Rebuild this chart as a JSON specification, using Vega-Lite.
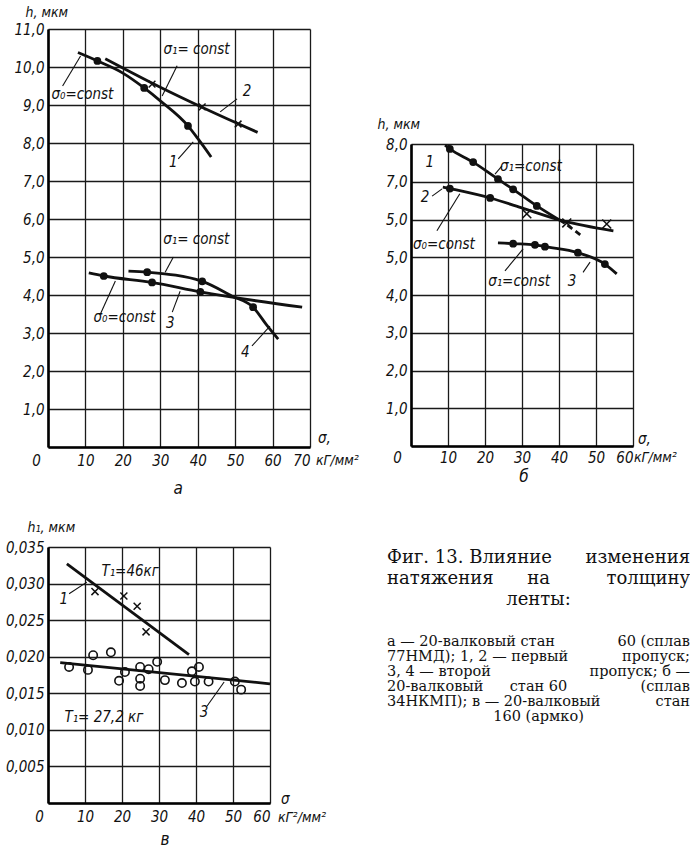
{
  "$schema": "https://vega.github.io/schema/vega-lite/v6.json",
  "background": "white",
  "padding": {"left": 5, "top": 5, "right": 0, "bottom": 0},
  "bounds": "flush",
  "spacing": 518,
  "config": {
    "view": {"stroke": null},
    "point": {"opacity": 1},
    "axis": {
      "grid": true, "gridColor": "#1a1a1a", "gridWidth": 1.3, "gridOpacity": 1,
      "domainColor": "#000", "domainWidth": 2.6, "ticks": false, "tickCount": 30,
      "labelFont": "Liberation Sans Narrow, DejaVu Sans Condensed, sans-serif",
      "labelFontStyle": "italic", "labelFontSize": 15, "labelColor": "#111",
      "labelFlush": false, "labelOverlap": false, "labelBound": false,
      "titleFont": "Liberation Sans Narrow, DejaVu Sans Condensed, sans-serif",
      "titleFontStyle": "italic", "titleFontWeight": "normal", "titleFontSize": 14, "titleColor": "#111"
    },
    "axisY": {"labelPadding": 4, "titleAngle": 0, "titleAlign": "left", "titleBaseline": "middle"},
    "text": {"font": "Liberation Sans Narrow, DejaVu Sans Condensed, sans-serif", "fontStyle": "italic", "fontSize": 15, "color": "#111", "baseline": "middle"}
  },
  "datasets": {
    "a_curves": [
      {"curve": "1", "sigma": 8, "h": 10.38}, {"curve": "1", "sigma": 13.2, "h": 10.16}, {"curve": "1", "sigma": 20, "h": 9.84}, {"curve": "1", "sigma": 25.7, "h": 9.45}, {"curve": "1", "sigma": 30, "h": 9.11}, {"curve": "1", "sigma": 37.4, "h": 8.45}, {"curve": "1", "sigma": 40, "h": 8.12}, {"curve": "1", "sigma": 43.6, "h": 7.63},
      {"curve": "2", "sigma": 15.3, "h": 10.22}, {"curve": "2", "sigma": 30, "h": 9.47}, {"curve": "2", "sigma": 41, "h": 8.95}, {"curve": "2", "sigma": 51, "h": 8.5}, {"curve": "2", "sigma": 56, "h": 8.28},
      {"curve": "3", "sigma": 10.9, "h": 4.58}, {"curve": "3", "sigma": 14.9, "h": 4.5}, {"curve": "3", "sigma": 27.8, "h": 4.33}, {"curve": "3", "sigma": 40.7, "h": 4.08}, {"curve": "3", "sigma": 67.9, "h": 3.68},
      {"curve": "4", "sigma": 21.5, "h": 4.63}, {"curve": "4", "sigma": 26.5, "h": 4.6}, {"curve": "4", "sigma": 41.2, "h": 4.36}, {"curve": "4", "sigma": 49.2, "h": 3.97}, {"curve": "4", "sigma": 54.8, "h": 3.68}, {"curve": "4", "sigma": 58.5, "h": 3.2}, {"curve": "4", "sigma": 61.5, "h": 2.84}
    ],
    "a_dots": [
      {"sigma": 13.2, "h": 10.16}, {"sigma": 25.7, "h": 9.45}, {"sigma": 37.4, "h": 8.45},
      {"sigma": 14.9, "h": 4.5}, {"sigma": 27.8, "h": 4.33}, {"sigma": 40.7, "h": 4.08},
      {"sigma": 26.5, "h": 4.6}, {"sigma": 41.2, "h": 4.36}, {"sigma": 54.8, "h": 3.68}
    ],
    "a_cross": [{"sigma": 27.8, "h": 9.55}, {"sigma": 41.2, "h": 8.95}, {"sigma": 50.8, "h": 8.5}],
    "a_leaders": [
      {"x1": 34.5, "y1": 10.03, "x2": 30.5, "y2": 9.24},
      {"x1": 3.9, "y1": 9.5, "x2": 8.7, "y2": 10.29},
      {"x1": 50.5, "y1": 9.16, "x2": 46, "y2": 8.82},
      {"x1": 34.8, "y1": 7.58, "x2": 38.8, "y2": 8.03},
      {"x1": 33.5, "y1": 5.0, "x2": 31.3, "y2": 4.6},
      {"x1": 14, "y1": 3.5, "x2": 18, "y2": 4.37},
      {"x1": 33.2, "y1": 3.55, "x2": 35.3, "y2": 4.1},
      {"x1": 54.5, "y1": 2.66, "x2": 59.3, "y2": 3.18}
    ],
    "a_text": [
      {"t": "σ₁= const", "x": 39.7, "y": 10.47}, {"t": "σ₀=const", "x": 9.2, "y": 9.29},
      {"t": "2", "x": 53.2, "y": 9.37}, {"t": "1", "x": 33.5, "y": 7.5},
      {"t": "σ₁= const", "x": 39.6, "y": 5.47}, {"t": "σ₀=const", "x": 20.4, "y": 3.42},
      {"t": "3", "x": 32.7, "y": 3.26}, {"t": "4", "x": 52.7, "y": 2.5}
    ],
    "b_curves": [
      {"curve": "1", "sigma": 9.2, "h": 7.97}, {"curve": "1", "sigma": 10.5, "h": 7.87}, {"curve": "1", "sigma": 16.8, "h": 7.52}, {"curve": "1", "sigma": 23.5, "h": 7.07}, {"curve": "1", "sigma": 27.6, "h": 6.8}, {"curve": "1", "sigma": 34, "h": 6.36}, {"curve": "1", "sigma": 41.6, "h": 5.9},
      {"curve": "2", "sigma": 8.6, "h": 6.86}, {"curve": "2", "sigma": 10.5, "h": 6.82}, {"curve": "2", "sigma": 21.4, "h": 6.57}, {"curve": "2", "sigma": 30.5, "h": 6.29}, {"curve": "2", "sigma": 40.8, "h": 5.97}, {"curve": "2", "sigma": 54.7, "h": 5.7},
      {"curve": "3", "sigma": 23.5, "h": 5.38}, {"curve": "3", "sigma": 27.6, "h": 5.36}, {"curve": "3", "sigma": 33.5, "h": 5.33}, {"curve": "3", "sigma": 36.2, "h": 5.28}, {"curve": "3", "sigma": 45.1, "h": 5.12}, {"curve": "3", "sigma": 52.4, "h": 4.82}, {"curve": "3", "sigma": 55.6, "h": 4.56}
    ],
    "b_dash": [{"curve": "1", "sigma": 42.3, "h": 5.85}, {"curve": "1", "sigma": 46.2, "h": 5.56}],
    "b_dots": [
      {"sigma": 10.5, "h": 7.87}, {"sigma": 16.8, "h": 7.52}, {"sigma": 23.5, "h": 7.07}, {"sigma": 27.6, "h": 6.8}, {"sigma": 34, "h": 6.36},
      {"sigma": 10.5, "h": 6.82}, {"sigma": 21.4, "h": 6.57},
      {"sigma": 27.6, "h": 5.36}, {"sigma": 33.5, "h": 5.33}, {"sigma": 36.2, "h": 5.28}, {"sigma": 45.1, "h": 5.12}, {"sigma": 52.4, "h": 4.82}
    ],
    "b_cross": [{"sigma": 31.3, "h": 6.15}, {"sigma": 42.1, "h": 5.91}, {"sigma": 52.9, "h": 5.88}],
    "b_leaders": [
      {"x1": 24.6, "y1": 7.42, "x2": 22.7, "y2": 7.2},
      {"x1": 5.7, "y1": 6.62, "x2": 8.4, "y2": 6.81},
      {"x1": 7.0, "y1": 5.7, "x2": 13.2, "y2": 6.68},
      {"x1": 25.4, "y1": 4.64, "x2": 30.3, "y2": 5.22},
      {"x1": 46.5, "y1": 4.6, "x2": 48.4, "y2": 4.87}
    ],
    "b_text": [
      {"t": "1", "x": 5.1, "y": 7.52}, {"t": "σ₁=const", "x": 32.4, "y": 7.42},
      {"t": "2", "x": 3.8, "y": 6.6}, {"t": "σ₀=const", "x": 8.9, "y": 5.35},
      {"t": "σ₁=const", "x": 29.2, "y": 4.37}, {"t": "3", "x": 43.5, "y": 4.37}
    ],
    "c_lines": [
      {"curve": "1", "sigma": 5.1, "h": 0.0327}, {"curve": "1", "sigma": 38.1, "h": 0.0203},
      {"curve": "3", "sigma": 3.3, "h": 0.0192}, {"curve": "3", "sigma": 60, "h": 0.0163}
    ],
    "c_cross": [{"sigma": 12.7, "h": 0.0289}, {"sigma": 20.5, "h": 0.0283}, {"sigma": 24.1, "h": 0.0269}, {"sigma": 26.5, "h": 0.0234}],
    "c_circles": [
      {"sigma": 5.7, "h": 0.0186}, {"sigma": 10.8, "h": 0.0182}, {"sigma": 12.2, "h": 0.0202}, {"sigma": 17, "h": 0.0206},
      {"sigma": 19.2, "h": 0.0167}, {"sigma": 20.8, "h": 0.0179}, {"sigma": 24.9, "h": 0.0186}, {"sigma": 24.9, "h": 0.017},
      {"sigma": 24.9, "h": 0.016}, {"sigma": 27.2, "h": 0.0183}, {"sigma": 29.5, "h": 0.0193}, {"sigma": 31.6, "h": 0.0168},
      {"sigma": 36.2, "h": 0.0164}, {"sigma": 38.9, "h": 0.018}, {"sigma": 40.8, "h": 0.0186}, {"sigma": 39.7, "h": 0.0166},
      {"sigma": 43.4, "h": 0.0166}, {"sigma": 50.5, "h": 0.0166}, {"sigma": 52.2, "h": 0.0155}
    ],
    "c_leaders": [
      {"x1": 5.7, "y1": 0.0286, "x2": 10.5, "y2": 0.0302},
      {"x1": 43, "y1": 0.01326, "x2": 47.6, "y2": 0.01654}
    ],
    "c_text": [
      {"t": "T₁=46кг", "x": 22.2, "y": 0.0317}, {"t": "1", "x": 4.3, "y": 0.0279},
      {"t": "T₁= 27,2 кг", "x": 15.1, "y": 0.01176}, {"t": "3", "x": 42.2, "y": 0.01244}
    ],
    "cap_head": [
      {"line": 1, "seg": "start", "t": "Фиг. 13. Влияние"}, {"line": 1, "seg": "end", "t": "изменения"},
      {"line": 2, "seg": "start", "t": "натяжения"}, {"line": 2, "seg": "mid", "t": "на"}, {"line": 2, "seg": "end", "t": "толщину"},
      {"line": 3, "seg": "mid", "t": "ленты:"}
    ],
    "cap_body": [
      {"line": 1, "seg": "start", "t": "а — 20-валковый стан"}, {"line": 1, "seg": "end", "t": "60 (сплав"},
      {"line": 2, "seg": "start", "t": "77НМД); 1, 2 — первый"}, {"line": 2, "seg": "end", "t": "пропуск;"},
      {"line": 3, "seg": "start", "t": "3, 4 — второй"}, {"line": 3, "seg": "end", "t": "пропуск; б —"},
      {"line": 4, "seg": "start", "t": "20-валковый"}, {"line": 4, "seg": "mid", "t": "стан 60"}, {"line": 4, "seg": "end", "t": "(сплав"},
      {"line": 5, "seg": "start", "t": "34НКМП); в — 20-валковый"}, {"line": 5, "seg": "end", "t": "стан"},
      {"line": 6, "seg": "mid", "t": "160 (армко)"}
    ]
  },
  "vconcat": [
    {
      "bounds": "flush",
      "spacing": 101,
      "hconcat": [
        {
          "width": 262, "height": 418,
          "layer": [
            {
              "data": {"name": "a_curves"},
              "mark": {"type": "line", "interpolate": "monotone", "strokeWidth": 2.8, "color": "#111"},
              "encoding": {
                "x": {"field": "sigma", "type": "quantitative", "scale": {"domain": [0, 70], "nice": false, "zero": false},
                  "axis": {"values": [0, 10, 20, 30, 40, 50, 60, 70], "tickCount": 30, "title": null, "labelPadding": 6,
                    "labelOffset": {"condition": {"test": "datum.value == 0", "value": -12}, "value": 0},
                    "labelAlign": {"condition": {"test": "datum.value == 70", "value": "right"}, "value": "center"}}},
                "y": {"field": "h", "type": "quantitative", "scale": {"domain": [0, 11], "nice": false, "zero": false},
                  "axis": {"values": [0, 1, 2, 3, 4, 5, 6, 7, 8, 9, 10, 11], "tickCount": 30, "title": "h, мкм", "titleX": -23, "titleY": -17,
                    "labelExpr": "datum.value == 0 ? '' : replace(format(datum.value, '.1f'), '.', ',')"}},
                "detail": {"field": "curve"}
              }
            },
            {
              "data": {"name": "a_dots"},
              "mark": {"type": "point", "filled": true, "size": 60, "color": "#111"},
              "encoding": {"x": {"field": "sigma", "type": "quantitative"}, "y": {"field": "h", "type": "quantitative"}}
            },
            {
              "data": {"name": "a_cross"},
              "mark": {"type": "point", "shape": "M-1,-1L1,1M-1,1L1,-1", "filled": false, "size": 45, "strokeWidth": 1.5, "color": "#111"},
              "encoding": {"x": {"field": "sigma", "type": "quantitative"}, "y": {"field": "h", "type": "quantitative"}}
            },
            {
              "data": {"name": "a_leaders"},
              "mark": {"type": "rule", "strokeWidth": 1.1, "color": "#111"},
              "encoding": {"x": {"field": "x1", "type": "quantitative"}, "y": {"field": "y1", "type": "quantitative"}, "x2": {"field": "x2"}, "y2": {"field": "y2"}}
            },
            {
              "data": {"name": "a_text"},
              "mark": {"type": "text", "fontSize": 15},
              "encoding": {"x": {"field": "x", "type": "quantitative"}, "y": {"field": "y", "type": "quantitative"}, "text": {"field": "t"}}
            },
            {
              "data": {"values": [{"t": "σ,"}]},
              "mark": {"type": "text", "align": "left", "dx": 8, "dy": -9, "fontSize": 15},
              "encoding": {"x": {"datum": 70, "type": "quantitative"}, "y": {"datum": 0, "type": "quantitative"}, "text": {"field": "t"}}
            },
            {
              "data": {"values": [{"t": "кГ/мм²"}]},
              "mark": {"type": "text", "align": "left", "dx": 6, "dy": 14, "fontSize": 14},
              "encoding": {"x": {"datum": 70, "type": "quantitative"}, "y": {"datum": 0, "type": "quantitative"}, "text": {"field": "t"}}
            },
            {
              "data": {"values": [{"t": "а"}]},
              "mark": {"type": "text", "dy": 42, "fontSize": 17},
              "encoding": {"x": {"datum": 34.8, "type": "quantitative"}, "y": {"datum": 0, "type": "quantitative"}, "text": {"field": "t"}}
            }
          ]
        },
        {
          "bounds": "flush",
          "spacing": 0,
          "vconcat": [
            {"width": 222, "height": 115, "data": {"values": []}, "mark": "point", "encoding": {}},
            {
              "width": 222, "height": 302,
              "layer": [
                {
                  "data": {"name": "b_curves"},
                  "mark": {"type": "line", "interpolate": "monotone", "strokeWidth": 2.8, "color": "#111"},
                  "encoding": {
                    "x": {"field": "sigma", "type": "quantitative", "scale": {"domain": [0, 60], "nice": false, "zero": false},
                      "axis": {"values": [0, 10, 20, 30, 40, 50, 60], "tickCount": 30, "title": null, "labelPadding": 4,
                        "labelOffset": {"condition": {"test": "datum.value == 0", "value": -14}, "value": 0},
                        "labelAlign": {"condition": {"test": "datum.value == 60", "value": "right"}, "value": "center"}}},
                    "y": {"field": "h", "type": "quantitative", "scale": {"domain": [0, 8], "nice": false, "zero": false},
                      "axis": {"values": [0, 1, 2, 3, 4, 5, 6, 7, 8], "tickCount": 30, "title": "h, мкм", "titleX": -34, "titleY": -20,
                        "labelExpr": "datum.value == 0 ? '' : datum.value == 6 ? '5,0' : replace(format(datum.value, '.1f'), '.', ',')"}},
                    "detail": {"field": "curve"}
                  }
                },
                {
                  "data": {"name": "b_dash"},
                  "mark": {"type": "line", "strokeWidth": 2.8, "strokeDash": [6, 4], "color": "#111"},
                  "encoding": {"x": {"field": "sigma", "type": "quantitative"}, "y": {"field": "h", "type": "quantitative"}, "detail": {"field": "curve"}}
                },
                {
                  "data": {"name": "b_dots"},
                  "mark": {"type": "point", "filled": true, "size": 60, "color": "#111"},
                  "encoding": {"x": {"field": "sigma", "type": "quantitative"}, "y": {"field": "h", "type": "quantitative"}}
                },
                {
                  "data": {"name": "b_cross"},
                  "mark": {"type": "point", "shape": "M-1,-1L1,1M-1,1L1,-1", "filled": false, "size": 80, "strokeWidth": 1.5, "color": "#111"},
                  "encoding": {"x": {"field": "sigma", "type": "quantitative"}, "y": {"field": "h", "type": "quantitative"}}
                },
                {
                  "data": {"name": "b_leaders"},
                  "mark": {"type": "rule", "strokeWidth": 1.1, "color": "#111"},
                  "encoding": {"x": {"field": "x1", "type": "quantitative"}, "y": {"field": "y1", "type": "quantitative"}, "x2": {"field": "x2"}, "y2": {"field": "y2"}}
                },
                {
                  "data": {"name": "b_text"},
                  "mark": {"type": "text", "fontSize": 15},
                  "encoding": {"x": {"field": "x", "type": "quantitative"}, "y": {"field": "y", "type": "quantitative"}, "text": {"field": "t"}}
                },
                {
                  "data": {"values": [{"t": "σ,"}]},
                  "mark": {"type": "text", "align": "left", "dx": 5, "dy": -7, "fontSize": 15},
                  "encoding": {"x": {"datum": 60, "type": "quantitative"}, "y": {"datum": 0, "type": "quantitative"}, "text": {"field": "t"}}
                },
                {
                  "data": {"values": [{"t": "кГ/мм²"}]},
                  "mark": {"type": "text", "align": "left", "dx": 1, "dy": 12, "fontSize": 14},
                  "encoding": {"x": {"datum": 60, "type": "quantitative"}, "y": {"datum": 0, "type": "quantitative"}, "text": {"field": "t"}}
                },
                {
                  "data": {"values": [{"t": "б"}]},
                  "mark": {"type": "text", "dy": 31, "fontSize": 17},
                  "encoding": {"x": {"datum": 30.5, "type": "quantitative"}, "y": {"datum": 0, "type": "quantitative"}, "text": {"field": "t"}}
                }
              ]
            }
          ]
        }
      ]
    },
    {
      "bounds": "flush",
      "spacing": 117,
      "hconcat": [
        {
          "width": 222, "height": 256,
          "layer": [
            {
              "data": {"name": "c_lines"},
              "mark": {"type": "line", "strokeWidth": 2.8, "color": "#111"},
              "encoding": {
                "x": {"field": "sigma", "type": "quantitative", "scale": {"domain": [0, 60], "nice": false, "zero": false},
                  "axis": {"values": [0, 10, 20, 30, 40, 50, 60], "tickCount": 30, "title": null, "labelPadding": 6,
                    "labelOffset": {"condition": {"test": "datum.value == 0", "value": -9}, "value": 0},
                    "labelAlign": {"condition": {"test": "datum.value == 60", "value": "right"}, "value": "center"}}},
                "y": {"field": "h", "type": "quantitative", "scale": {"domain": [0, 0.035], "nice": false, "zero": false},
                  "axis": {"values": [0, 0.005, 0.01, 0.015, 0.02, 0.025, 0.03, 0.035], "tickCount": 30, "title": "h₁, мкм", "titleX": -21, "titleY": -20,
                    "labelExpr": "datum.value == 0 ? '' : replace(format(datum.value, '.3f'), '.', ',')"}},
                "detail": {"field": "curve"}
              }
            },
            {
              "data": {"name": "c_circles"},
              "mark": {"type": "point", "filled": false, "size": 70, "strokeWidth": 1.6, "color": "#111"},
              "encoding": {"x": {"field": "sigma", "type": "quantitative"}, "y": {"field": "h", "type": "quantitative"}}
            },
            {
              "data": {"name": "c_cross"},
              "mark": {"type": "point", "shape": "M-1,-1L1,1M-1,1L1,-1", "filled": false, "size": 50, "strokeWidth": 1.5, "color": "#111"},
              "encoding": {"x": {"field": "sigma", "type": "quantitative"}, "y": {"field": "h", "type": "quantitative"}}
            },
            {
              "data": {"name": "c_leaders"},
              "mark": {"type": "rule", "strokeWidth": 1.1, "color": "#111"},
              "encoding": {"x": {"field": "x1", "type": "quantitative"}, "y": {"field": "y1", "type": "quantitative"}, "x2": {"field": "x2"}, "y2": {"field": "y2"}}
            },
            {
              "data": {"name": "c_text"},
              "mark": {"type": "text", "fontSize": 15},
              "encoding": {"x": {"field": "x", "type": "quantitative"}, "y": {"field": "y", "type": "quantitative"}, "text": {"field": "t"}}
            },
            {
              "data": {"values": [{"t": "σ"}]},
              "mark": {"type": "text", "align": "left", "dx": 11, "dy": -4, "fontSize": 15},
              "encoding": {"x": {"datum": 60, "type": "quantitative"}, "y": {"datum": 0, "type": "quantitative"}, "text": {"field": "t"}}
            },
            {
              "data": {"values": [{"t": "кГ²/мм²"}]},
              "mark": {"type": "text", "align": "left", "dx": 8, "dy": 15, "fontSize": 14},
              "encoding": {"x": {"datum": 60, "type": "quantitative"}, "y": {"datum": 0, "type": "quantitative"}, "text": {"field": "t"}}
            },
            {
              "data": {"values": [{"t": "в"}]},
              "mark": {"type": "text", "dy": 37, "fontSize": 17},
              "encoding": {"x": {"datum": 31.6, "type": "quantitative"}, "y": {"datum": 0, "type": "quantitative"}, "text": {"field": "t"}}
            }
          ]
        },
        {
          "bounds": "flush",
          "spacing": 24,
          "vconcat": [
            {
              "width": 303, "height": 63,
              "data": {"name": "cap_head"},
              "encoding": {"y": {"field": "line", "type": "ordinal", "axis": null}},
              "layer": [
                {"transform": [{"filter": "datum.seg == 'start'"}], "mark": {"type": "text", "align": "left", "font": "DejaVu Serif", "fontStyle": "normal", "fontSize": 18},
                  "encoding": {"x": {"datum": 0, "type": "quantitative", "scale": {"domain": [0, 1], "nice": false}, "axis": null}, "text": {"field": "t"}}},
                {"transform": [{"filter": "datum.seg == 'mid'"}], "mark": {"type": "text", "align": "center", "font": "DejaVu Serif", "fontStyle": "normal", "fontSize": 18},
                  "encoding": {"x": {"datum": 0.5, "type": "quantitative"}, "text": {"field": "t"}}},
                {"transform": [{"filter": "datum.seg == 'end'"}], "mark": {"type": "text", "align": "right", "font": "DejaVu Serif", "fontStyle": "normal", "fontSize": 18},
                  "encoding": {"x": {"datum": 1, "type": "quantitative"}, "text": {"field": "t"}}}
              ]
            },
            {
              "width": 303, "height": 90,
              "data": {"name": "cap_body"},
              "encoding": {"y": {"field": "line", "type": "ordinal", "axis": null}},
              "layer": [
                {"transform": [{"filter": "datum.seg == 'start'"}], "mark": {"type": "text", "align": "left", "font": "DejaVu Serif", "fontStyle": "normal", "fontSize": 14.5},
                  "encoding": {"x": {"datum": 0, "type": "quantitative", "scale": {"domain": [0, 1], "nice": false}, "axis": null}, "text": {"field": "t"}}},
                {"transform": [{"filter": "datum.seg == 'mid'"}], "mark": {"type": "text", "align": "center", "font": "DejaVu Serif", "fontStyle": "normal", "fontSize": 14.5},
                  "encoding": {"x": {"datum": 0.5, "type": "quantitative"}, "text": {"field": "t"}}},
                {"transform": [{"filter": "datum.seg == 'end'"}], "mark": {"type": "text", "align": "right", "font": "DejaVu Serif", "fontStyle": "normal", "fontSize": 14.5},
                  "encoding": {"x": {"datum": 1, "type": "quantitative"}, "text": {"field": "t"}}}
              ]
            }
          ]
        }
      ]
    }
  ]
}
